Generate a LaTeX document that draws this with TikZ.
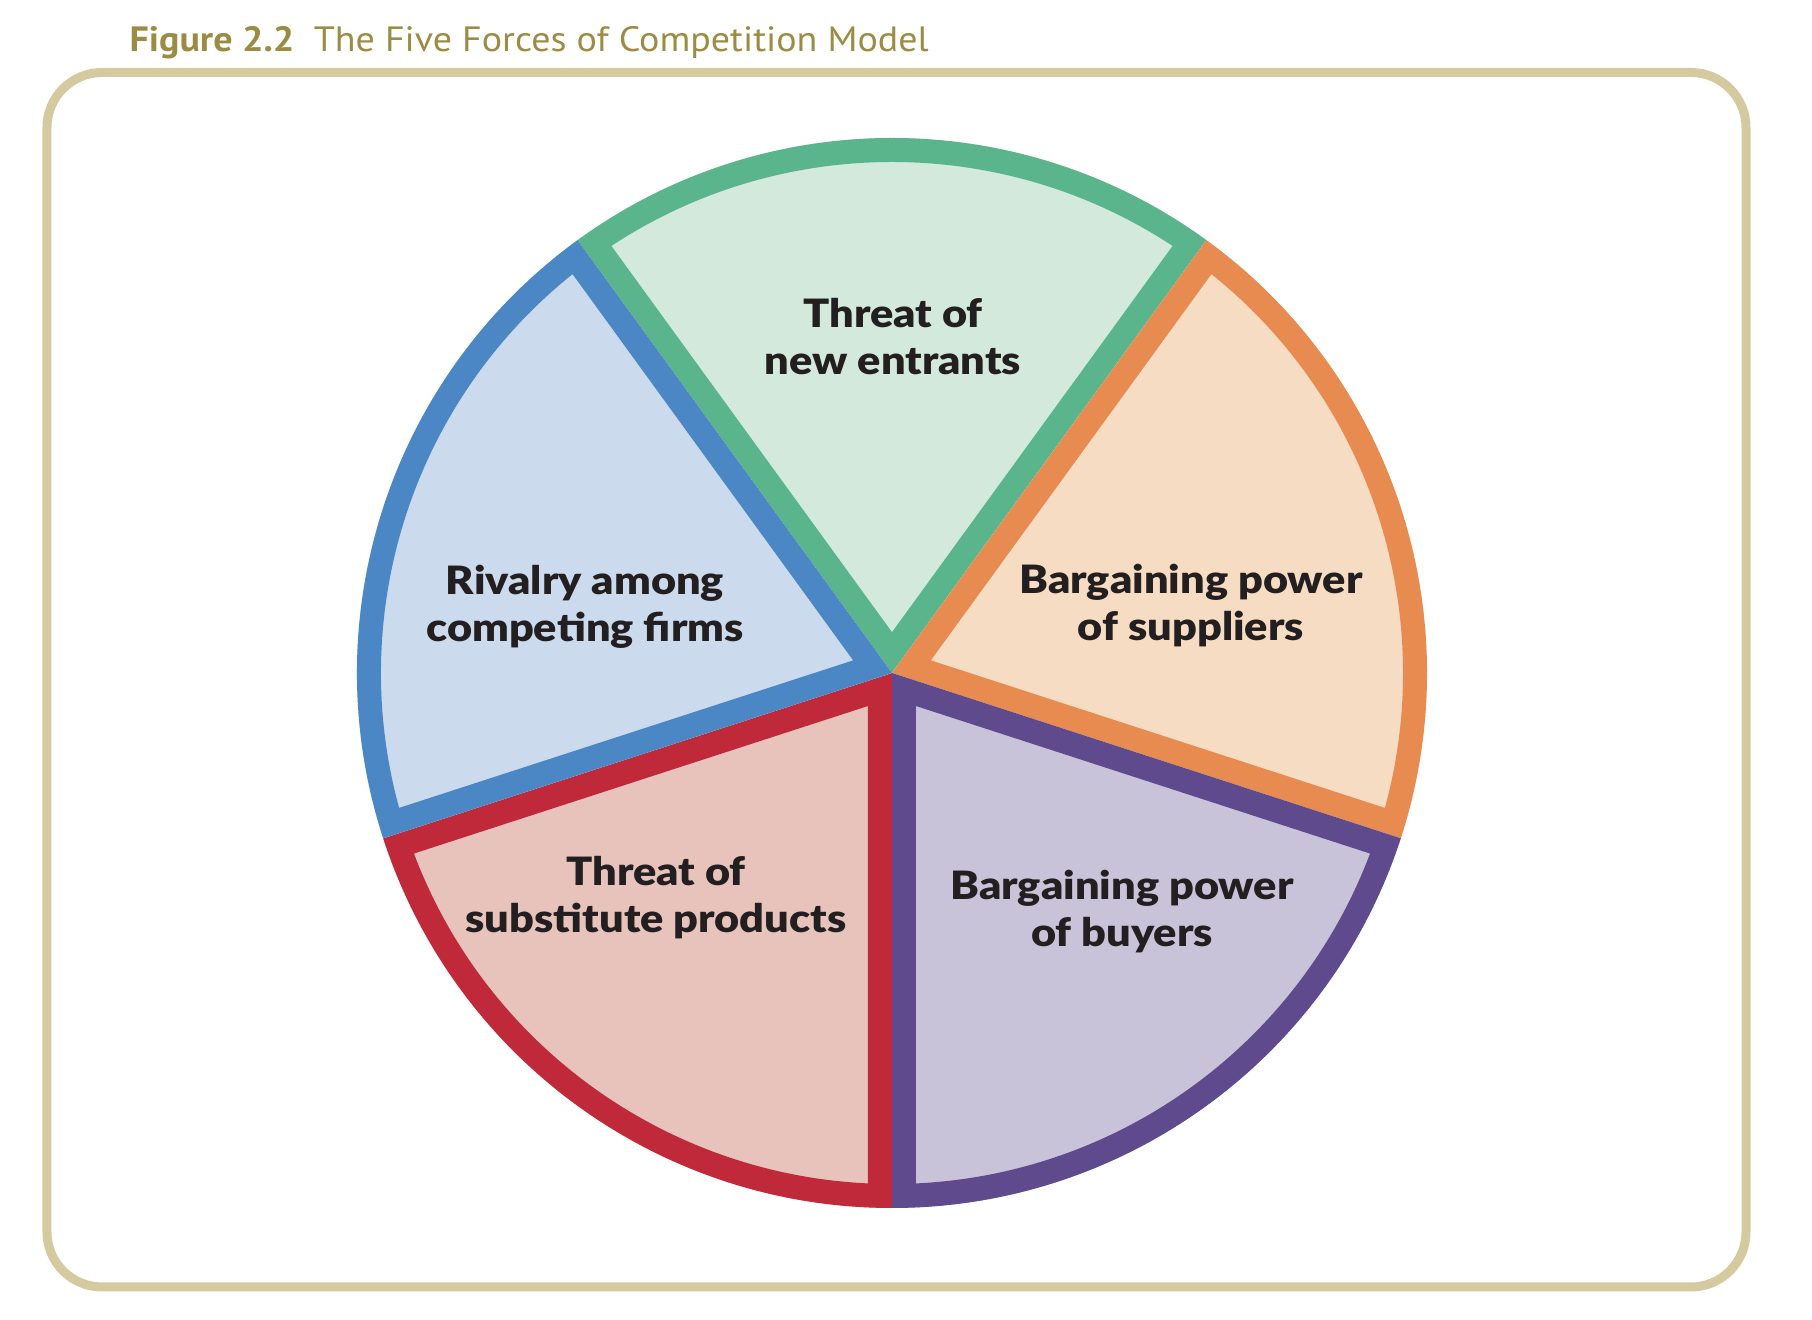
\documentclass[tikz,border=0pt]{standalone}
\usepackage{fontspec}
\setmainfont{Lato}
\newfontfamily\forcefont[FakeStretch=1.11]{Lato Black}
\newfontfamily\titlefont[FakeStretch=1.08]{PT Sans}
\usetikzlibrary{positioning}

\definecolor{frametan}{HTML}{D5C9A0}
\definecolor{titlegold}{HTML}{9C8B42}
\definecolor{labeltext}{HTML}{231F20}
\definecolor{entrantline}{HTML}{5BB58C}
\definecolor{entrantfill}{HTML}{D3E9DC}
\definecolor{supplierline}{HTML}{E88B50}
\definecolor{supplierfill}{HTML}{F7DCC4}
\definecolor{buyerline}{HTML}{5E4A8C}
\definecolor{buyerfill}{HTML}{C9C3D9}
\definecolor{substline}{HTML}{C0293A}
\definecolor{substfill}{HTML}{E8C3BB}
\definecolor{rivalline}{HTML}{4A87C4}
\definecolor{rivalfill}{HTML}{CCDAEE}

\tikzset{
  force/.style={font=\forcefont\fontsize{11.1}{13.4}\selectfont, text=labeltext, align=center},
}

\begin{document}
\begin{tikzpicture}
    \useasboundingbox (-8.92,-6.47) rectangle (9.20,6.73);

    % Frame
    \draw[frametan, line width=0.9mm, rounded corners=5.5mm] (-8.45,-6.14) rectangle (8.54,6.005);

    % Title
    \node[anchor=base west, inner sep=0pt, text=titlegold, font=\titlefont\fontsize{10}{12}\selectfont] (title) at (-7.63,6.21)
        {\textbf{Figure 2.2}\hspace{0.55em}The Five Forces of Competition Model};

    % Sectors (border drawn inside each slice)
    \foreach \a/\edge/\inner in {90/entrantline/entrantfill, 18/supplierline/supplierfill,
                                 -54/buyerline/buyerfill, -126/substline/substfill, 162/rivalline/rivalfill} {
        \begin{scope}
            \clip (0,0) -- ({\a-36}:5.35) arc[start angle=\a-36, end angle=\a+36, radius=5.35] -- cycle;
            \draw[\edge, fill=\inner, line width=4.8mm, line join=miter]
                (0,0) -- ({\a-36}:5.35) arc[start angle=\a-36, end angle=\a+36, radius=5.35] -- cycle;
        \end{scope}
    }

    % Labels
    \node[force] (entrants) at (0.01,3.36) {Threat of\\new entrants};
    \node[force] (suppliers) at (2.99,0.675) {Bargaining power\\of suppliers};
    \node[force] (buyers) at (2.30,-2.385) {Bargaining power\\of buyers};
    \node[force] (substitutes) at (-2.36,-2.25) {Threat of\\substitute products};
    \node[force] (rivalry) at (-3.07,0.665) {Rivalry among\\competing firms};
\end{tikzpicture}
\end{document}
